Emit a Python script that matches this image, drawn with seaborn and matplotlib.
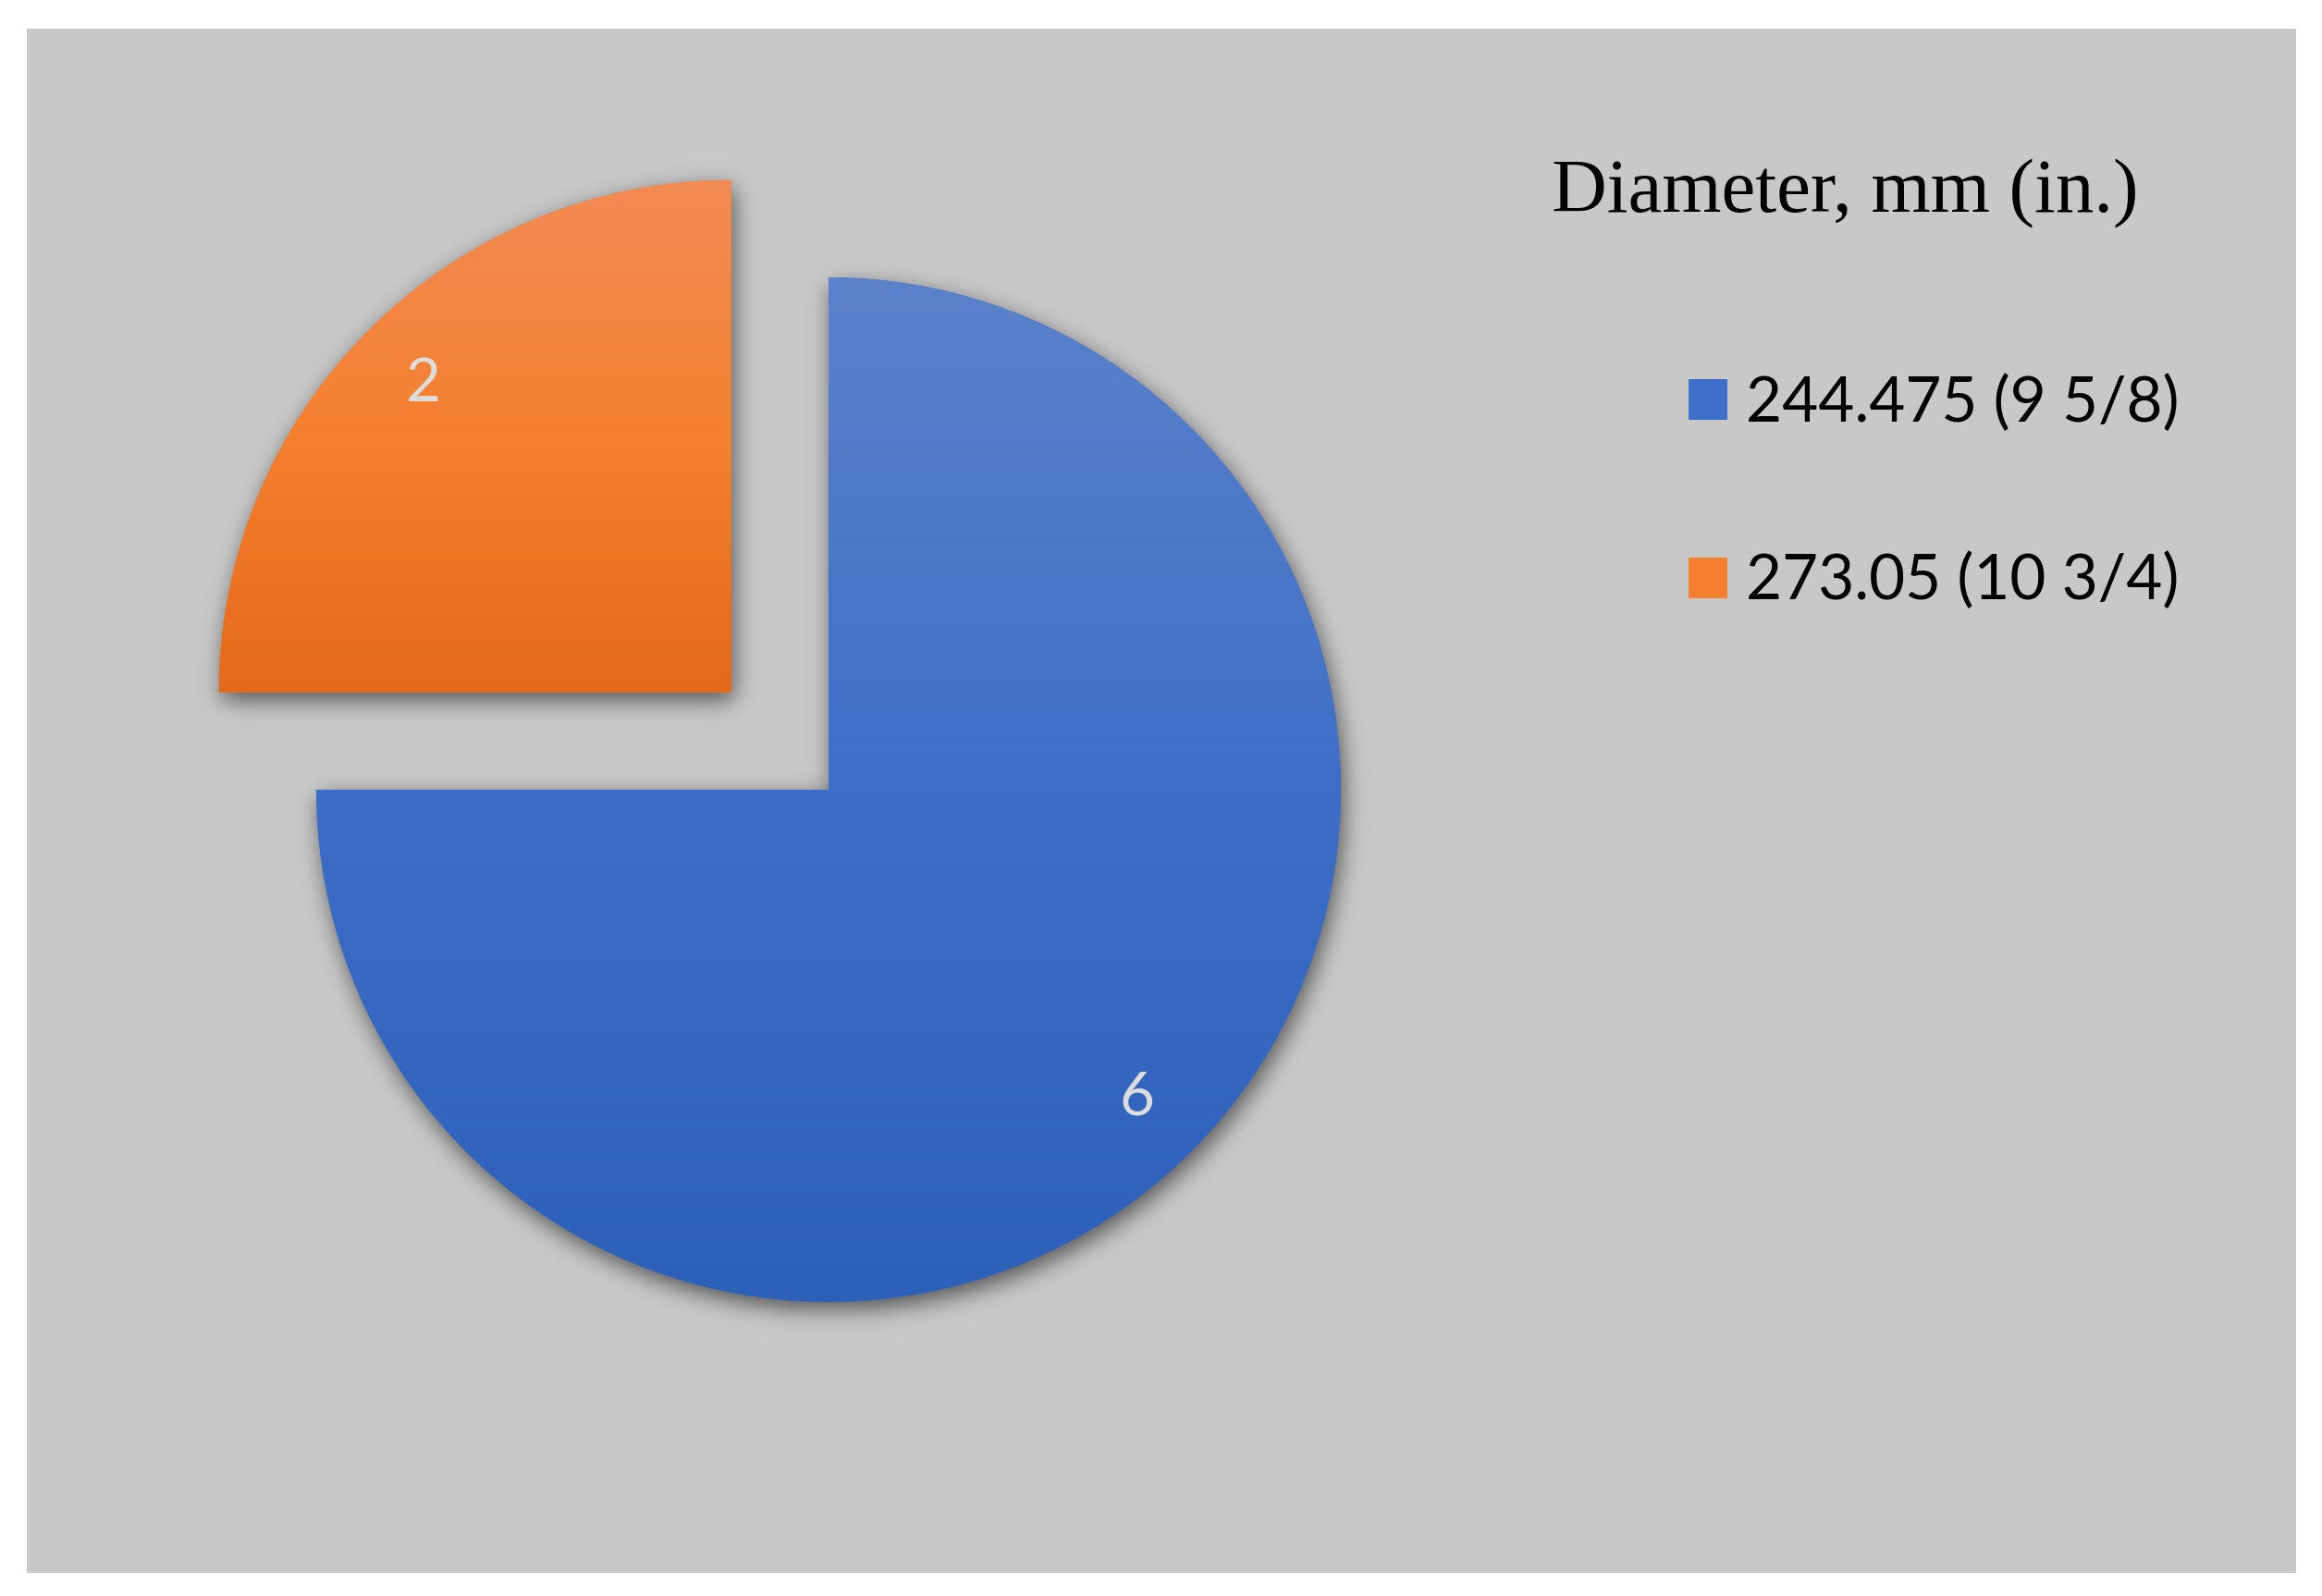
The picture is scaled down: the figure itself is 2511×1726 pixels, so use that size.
import numpy as np
import matplotlib
matplotlib.use("Agg")
import matplotlib.pyplot as plt
import seaborn as sns
from matplotlib.colors import LinearSegmentedColormap
from matplotlib.patches import Rectangle

# data
labels = ["244.475 (9 5/8)", "273.05 (10 3/4)"]
counts = [6, 2]
legend_title = "Diameter, mm (in.)"

# colours: top / middle / bottom of the gradient fill
blue_grad = ["#5b81ca", "#3e6fc8", "#2d60b9"]
orange_grad = ["#f28b55", "#f5802e", "#e4691a"]

W, H = 2511, 1726

sns.set_theme(style="white")
plt.rcParams['font.family'] = ['Lato', 'DejaVu Sans']

fig = plt.figure(figsize=(W / 100, H / 100), dpi=100, facecolor='white')
# grey plot area with white margin (drawn below the axes)
fig.patches.append(Rectangle((29 / W, 1 - 1701 / H), (2483 - 29) / W, (1701 - 31) / H,
                             transform=fig.transFigure, facecolor='#c8c8c8',
                             edgecolor='none', zorder=-5))

ax = fig.add_axes([0, 0, 1, 1])
ax.patch.set_visible(False)

cx, cy, r = 896, H - 854, 554
wedges, _, autotexts = ax.pie(
    counts,
    colors=[blue_grad[1], orange_grad[1]],
    startangle=90,
    counterclock=False,
    radius=r,
    center=(cx, cy),
    explode=[0, 149],
    autopct=lambda p: f"{p * sum(counts) / 100:.0f}",
    pctdistance=0.85,
    textprops=dict(color='#dcdcdc', fontsize=47),
    wedgeprops=dict(linewidth=0),
)

# gradient fills clipped to each wedge
for w, stops in zip(wedges, [blue_grad, orange_grad]):
    cmap = LinearSegmentedColormap.from_list("g", stops)
    ext = w.get_path().get_extents()
    grad = np.linspace(0, 1, 256).reshape(-1, 1)
    im = ax.imshow(grad, cmap=cmap, extent=[ext.x0, ext.x1, ext.y0, ext.y1],
                   origin='upper', aspect='auto', interpolation='bilinear', zorder=1.5)
    im.set_clip_path(w)

# soft drop shadow
step = 2
xs = np.arange(0, W, step) + step / 2
ys = np.arange(0, H, step) + step / 2
X, Y = np.meshgrid(xs, ys)
dx, dy = 4, -9
Xs, Ys = X - dx, Y - dy
mask = np.zeros_like(X)
bx, by = wedges[0].center
ox, oy = wedges[1].center
in_blue = ((Xs - bx) ** 2 + (Ys - by) ** 2 <= r ** 2) & ~((Xs < bx) & (Ys > by))
in_orange = ((Xs - ox) ** 2 + (Ys - oy) ** 2 <= r ** 2) & (Xs <= ox) & (Ys >= oy)
mask[in_blue | in_orange] = 1.0

sigma = 12 / step
ky = np.fft.fftfreq(mask.shape[0])
kx = np.fft.rfftfreq(mask.shape[1])
KX, KY = np.meshgrid(kx, ky)
filt = np.exp(-2 * (np.pi * sigma) ** 2 * (KX ** 2 + KY ** 2))
blur = np.fft.irfft2(np.fft.rfft2(mask) * filt, s=mask.shape)
blur = np.clip(blur, 0, 1)
shadow = np.zeros(mask.shape + (4,))
shadow[..., :3] = 0.15
shadow[..., 3] = blur * 0.7
ax.imshow(shadow, extent=[0, W, 0, H], origin='lower', aspect='auto',
          interpolation='bilinear', zorder=0.5)

ax.set_xlim(0, W)
ax.set_ylim(0, H)
ax.set_aspect('auto')
ax.axis('off')

# legend
leg = ax.legend(wedges, labels, loc='upper left',
                bbox_to_anchor=(1826 / W, 1 - 405 / H), bbox_transform=fig.transFigure,
                frameon=False, fontsize=48.5, handlelength=0.62, handleheight=0.62,
                handletextpad=0.3, labelspacing=1.93, borderpad=0, borderaxespad=0)
for t in leg.get_texts():
    t.set_color('black')

fig.text(1678 / W, 1 - 210 / H, legend_title, family=['Liberation Serif', 'DejaVu Serif'],
         fontsize=59.5, va='center', ha='left', color='black')

fig.savefig("out.png", dpi=100, facecolor='white')
